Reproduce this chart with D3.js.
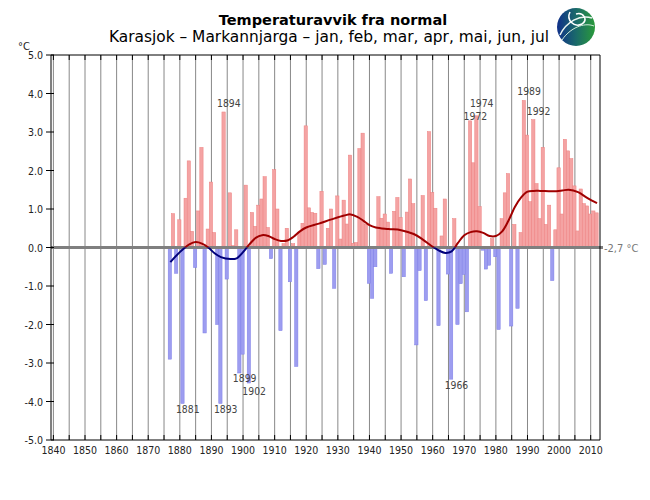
<!DOCTYPE html>
<html><head><meta charset="utf-8">
<script src="https://cdn.jsdelivr.net/npm/d3@7"></script>
<style>body{margin:0;background:#fff}svg{display:block}</style>
</head><body>
<script>
const title = "Temperaturavvik fra normal";
const subtitle = "Karasjok – Markannjarga – jan, feb, mar, apr, mai, jun, jul";
const normalLabel = "-2,7 °C";
const yTicks = [-5,-4,-3,-2,-1,0,1,2,3,4,5];
const xTickLabels = [1840,1850,1860,1870,1880,1890,1900,1910,1920,1930,1940,1950,1960,1970,1980,1990,2000,2010];
const years = d3.range(1877, 2013);
const anomalies = [
 -2.9, 0.88, -0.67, 0.72, -4.05, 1.28, 2.25, 0.42, -0.52, 0.95, 2.6, -2.22, 0.48, 1.7,   // 1877-1890
 0.39, -2.0, -4.05, 3.52, -0.82, 1.42, 0.05, 0.46, -3.26, -2.77,                       // 1891-1900
 1.62, -3.52, 0.91, 0.55, 1.1, 1.26, 1.84, 0.52, -0.29, 2.02,                          // 1901-1910
 1.0, -2.16, 0.1, 0.5, -0.89, 0.1, -3.09, 0.39, 0.63, 3.16,                            // 1911-1920
 1.03, 0.91, 0.89, -0.55, 1.46, -0.44, 0.5, 1.0, -1.06, 1.34,                          // 1921-1930
 0.22, 1.23, 0.61, 2.4, 0.11, 0.13, 2.57, 2.97, 0.6, -0.93,                            // 1931-1940
 -1.32, -0.5, 1.32, 0.76, 0.87, 0.66, -0.67, 0.94, 1.3, 0.78,                          // 1941-1950
 -0.76, 0.92, 1.78, 1.14, -2.53, -0.6, 1.35, -1.38, 3.01, 1.43,                        // 1951-1960
 1.02, -2.03, 0.3, 1.26, -0.69, -3.42, 0.75, -2.0, -0.94, -0.7,                        // 1961-1970
 -1.67, 3.29, 2.2, 3.42, 1.06, -0.07, -0.56, -0.46, 0.23, -0.24,                       // 1971-1980
 -2.13, 0.75, 1.42, 1.92, -2.04, 0.6, -1.58, 0.39, 3.82, 2.92,                         // 1981-1990
 1.19, 3.32, 1.66, 0.75, 2.6, 0.6, 1.1, -0.86, 0.46, 2.07,                             // 1991-2000
 0.87, 2.81, 2.51, 2.31, 1.6, 0.43, 1.52, 1.14, 1.08, 0.87, 0.95, 0.9                  // 2001-2012
];
const labelledYears = [1881, 1893, 1894, 1899, 1902, 1966, 1972, 1974, 1989, 1992];
const smoothYears = [1877,1880,1883,1885,1887,1889,1891,1893,1896,1898,1900,1902,1904,1906,1908,1910,1912,1914,1916,1918,1920,1924,1928,1932,1934,1936,1938,1940,1942,1946,1950,1954,1957,1960,1962,1964,1966,1968,1970,1972,1974,1976,1978,1980,1982,1984,1986,1988,1990,1992,1994,1998,2001,2003,2006,2009,2012];
const smoothVals  = [-0.38,-0.12,0.08,0.14,0.1,0.0,-0.15,-0.25,-0.3,-0.28,-0.12,0.08,0.25,0.32,0.3,0.22,0.17,0.18,0.28,0.42,0.52,0.62,0.73,0.83,0.86,0.8,0.7,0.58,0.52,0.48,0.45,0.35,0.2,0.02,-0.08,-0.14,-0.1,0.12,0.32,0.4,0.42,0.38,0.3,0.3,0.42,0.7,1.05,1.3,1.45,1.47,1.47,1.46,1.48,1.5,1.44,1.28,1.15];

const W = 650, H = 500;
const L = 51, R = 600, T = 55, B = 440;
const svg = d3.select("body").append("svg").attr("width", W).attr("height", H);
const defs = svg.append("defs");
const x = d3.scaleLinear().domain([1840, 2010]).range([53.4, 590.7]);
const y = d3.scaleLinear().domain([-5, 5]).range([B, T]);
const font = "'Liberation Sans Narrow','DejaVu Sans Condensed','Liberation Sans',sans-serif";

// title
svg.append("text").attr("x", 333).attr("y", 25).attr("text-anchor", "middle")
  .attr("font-family", "'DejaVu Sans',sans-serif").attr("font-weight", "bold").attr("font-size", 14.5)
  .attr("fill", "#000").text(title);
defs.append("clipPath").attr("id", "subclip")
  .append("rect").attr("x", 0).attr("y", 0).attr("width", 580).attr("height", 50);
svg.append("text").attr("x", 109).attr("y", 42).attr("clip-path", "url(#subclip)")
  .attr("font-family", "'DejaVu Sans',sans-serif").attr("font-size", 15.4)
  .attr("fill", "#000").text(subtitle);

// gridlines every 5 years
const grid = d3.range(1840, 2011, 5);
svg.append("g").selectAll("line").data(grid).join("line")
  .attr("x1", d => x(d)).attr("x2", d => x(d)).attr("y1", T).attr("y2", B)
  .attr("stroke", "#888").attr("stroke-width", 1);

// bars
const bw = 3.3;
svg.append("g").selectAll("rect").data(years.map((yr, i) => ({yr, v: anomalies[i]}))).join("rect")
  .attr("x", d => x(d.yr) - bw / 2 - 0.5)
  .attr("width", bw)
  .attr("y", d => d.v >= 0 ? y(d.v) : y(0))
  .attr("height", d => Math.abs(y(d.v) - y(0)))
  .attr("fill", d => d.v >= 0 ? "#f4a3a3" : "#9d9df0")
  .attr("stroke", d => d.v >= 0 ? "#ee8080" : "#7f7fe8")
  .attr("stroke-width", 0.5);

// zero line
svg.append("line").attr("x1", L).attr("x2", R + 3).attr("y1", y(0)).attr("y2", y(0))
  .attr("stroke", "#7f7f7f").attr("stroke-width", 3);
svg.append("text").attr("x", 604).attr("y", y(0) + 4).attr("font-family", font).attr("font-size", 11)
  .attr("fill", "#777").text(normalLabel);

// smoothed curve, red above / blue below zero
defs.append("clipPath").attr("id", "above").append("rect").attr("x", 0).attr("y", 0).attr("width", W).attr("height", y(0));
defs.append("clipPath").attr("id", "below").append("rect").attr("x", 0).attr("y", y(0)).attr("width", W).attr("height", H);
const lineGen = d3.line().x(d => x(d[0])).y(d => y(d[1])).curve(d3.curveCatmullRom.alpha(0.5));
const sm = smoothYears.map((yr, i) => [yr, smoothVals[i]]);
svg.append("path").attr("d", lineGen(sm)).attr("fill", "none").attr("stroke", "#a00000").attr("stroke-width", 2).attr("clip-path", "url(#above)");
svg.append("path").attr("d", lineGen(sm)).attr("fill", "none").attr("stroke", "#00007a").attr("stroke-width", 2).attr("clip-path", "url(#below)");

// frame
svg.append("line").attr("x1", L).attr("x2", R).attr("y1", T).attr("y2", T).attr("stroke", "#000");
svg.append("line").attr("x1", L).attr("x2", R).attr("y1", B).attr("y2", B).attr("stroke", "#000");
svg.append("line").attr("x1", L).attr("x2", L).attr("y1", T).attr("y2", B).attr("stroke", "#000");
svg.append("line").attr("x1", R).attr("x2", R).attr("y1", T).attr("y2", B).attr("stroke", "#000");
// x ticks top and bottom
svg.append("g").selectAll("line").data(grid).join("line")
  .attr("x1", d => x(d)).attr("x2", d => x(d)).attr("y1", T).attr("y2", T + 5).attr("stroke", "#000");
svg.append("g").selectAll("line").data(grid).join("line")
  .attr("x1", d => x(d)).attr("x2", d => x(d)).attr("y1", B - 5).attr("y2", B).attr("stroke", "#000");
svg.append("g").selectAll("text").data(xTickLabels).join("text")
  .attr("x", d => x(d)).attr("y", B + 14).attr("text-anchor", "middle")
  .attr("font-family", font).attr("font-size", 10.5).attr("fill", "#222").text(d => d);
// y ticks
svg.append("g").selectAll("line").data(yTicks).join("line")
  .attr("x1", L - 5).attr("x2", L + 3).attr("y1", d => y(d)).attr("y2", d => y(d)).attr("stroke", "#000");
svg.append("g").selectAll("text").data(yTicks).join("text")
  .attr("x", L - 8).attr("y", d => y(d) + 4).attr("text-anchor", "end")
  .attr("font-family", font).attr("font-size", 10.5).attr("fill", "#222").text(d => d.toFixed(1));
svg.append("text").attr("x", 18).attr("y", 50).attr("font-family", font).attr("font-size", 11).attr("fill", "#222").text("°C");

// year labels for extremes (small per-label nudges keep neighbouring labels apart)
const labelNudge = {1972: 4, 1974: -4, 1899: -1, 1902: 2};
svg.append("g").selectAll("text").data(labelledYears).join("text")
  .attr("x", d => x(d) - 7)
  .attr("y", d => {
    const v = anomalies[years.indexOf(d)];
    return (v >= 0 ? y(v) - 5 : y(v) + 10) + (labelNudge[d] || 0);
  })
  .attr("text-anchor", "start")
  .attr("font-family", font).attr("font-size", 10.3).attr("fill", "#444").text(d => d);

// logo
const gg = defs.append("linearGradient").attr("id", "logo2").attr("x1", "0").attr("x2", "1");
gg.append("stop").attr("offset", "0%").attr("stop-color", "#10308a");
gg.append("stop").attr("offset", "50%").attr("stop-color", "#1a6a6a");
gg.append("stop").attr("offset", "100%").attr("stop-color", "#2a9a3a");
svg.append("circle").attr("cx", 576).attr("cy", 27).attr("r", 19).attr("fill", "url(#logo2)");
svg.append("path").attr("d", "M560,35 C566,22 580,14 592,18").attr("fill", "none").attr("stroke", "#e8f4f0").attr("stroke-width", 1.5);
svg.append("path").attr("d", "M562,40 C570,28 584,22 594,26").attr("fill", "none").attr("stroke", "#d0ecd8").attr("stroke-width", 1);
svg.append("path").attr("d", "M570,12 C566,20 574,28 582,24 C588,20 584,12 576,14").attr("fill", "none").attr("stroke", "#ffffff").attr("stroke-width", 1.5);
</script>
</body></html>
